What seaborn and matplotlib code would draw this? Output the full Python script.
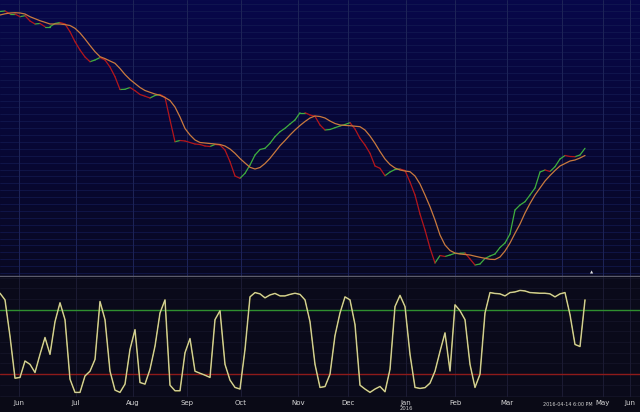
import numpy as np
import pandas as pd
import matplotlib
matplotlib.use("Agg")
import matplotlib.pyplot as plt
from matplotlib.colors import LinearSegmentedColormap
import seaborn as sns

# price (arbitrary units) sampled every 5 px of the reference, Jun 2015 -> 2016-04-14
price = [264.5, 265, 262, 262, 259.3, 260.3, 255, 252, 252.5, 249.3,
         249.3, 252.5, 253.5, 252, 244.3, 234.3, 226, 219, 214.3, 216,
         218.5, 216, 209, 199.3, 186.5, 186.7, 188.5, 185.3, 181.5, 179.8,
         178, 180.5, 181.5, 178.7, 156, 134.3, 135.5, 135, 133.5, 132,
         131.5, 130, 129.5, 131.5, 131, 126, 114.3, 100, 97.7, 102.7,
         111, 121, 126.5, 127.7, 132.7, 139.3, 144.3, 147.7, 152, 156,
         163.3, 163.3, 161, 159.7, 151, 146, 146.5, 148.3, 150, 151.5,
         153.3, 147, 137.7, 131, 122.7, 110, 107.7, 100.3, 104, 106.5,
         107, 105.5, 94, 81, 62, 46, 28, 13, 20.5, 19.5,
         21, 22.7, 22.7, 23, 17, 11, 12, 17.5, 20, 22,
         28.5, 33, 42, 66, 71, 74.3, 81, 88, 104, 106,
         104.5, 109.3, 117, 120.5, 119.5, 119.3, 121, 127.7]

moving_avg = [261, 262.2, 263, 263.3, 263, 262, 259.3, 257.3, 255.3, 253.7,
              252, 252, 252, 251.4, 250.5, 247.7, 243, 237, 230.5, 224.3,
              219.3, 217.4, 215, 212.7, 207.5, 201.5, 196.5, 192.5, 188.5, 185.5,
              183.7, 182, 180.7, 178.5, 175.5, 169, 159, 147.5, 141, 136,
              133.5, 133, 132.5, 132, 131.5, 130, 127, 122.7, 117.5, 113,
              108.7, 107, 108.5, 112.5, 117.7, 124, 130.3, 135.5, 141, 146,
              150.5, 154.5, 158, 160, 159.5, 158, 155, 152.5, 151, 150.6,
              150.3, 149.8, 149.3, 146, 140, 132.7, 124.5, 117, 111.5, 108,
              106, 105, 104.3, 100, 92, 81, 69.3, 56, 41, 31,
              25.5, 23, 22, 21.5, 21, 19.8, 18.7, 17.7, 16.7, 16.5,
              19, 25, 33, 42.7, 52, 63, 72.5, 81, 88, 95,
              100.5, 105.5, 110, 112.5, 115, 116, 118, 120.5]

stoch = [95.4, 89.2, 55.4, 16.3, 17.0, 32.3, 29.2, 21.6, 38.5, 54.2,
         38.5, 68.9, 86.5, 70.8, 15.4, 3.1, 3.1, 18.4, 22.8, 33.8,
         87.7, 70.8, 22.8, 5.2, 3.1, 10.8, 43.1, 61.5, 12.3, 10.8,
         24.6, 46.1, 77.0, 89.2, 9.8, 4.6, 4.6, 40.0, 53.2, 22.8,
         20.9, 19.1, 17.0, 70.8, 79.1, 29.2, 14.5, 7.7, 6.2, 43.1,
         92.0, 96.0, 94.8, 91.1, 93.8, 95.2, 92.9, 92.9, 94.3, 95.4,
         94.3, 89.2, 68.9, 29.2, 7.7, 8.5, 20.0, 56.0, 77.0, 92.0,
         89.2, 66.2, 9.8, 6.2, 3.1, 6.2, 8.6, 3.7, 24.6, 83.0,
         93.4, 83.0, 38.5, 7.7, 6.8, 7.5, 11.7, 22.8, 41.2, 58.5,
         23.0, 84.6, 79.1, 70.8, 29.2, 7.7, 20.0, 77.0, 96.0, 95.2,
         94.8, 92.9, 96.0, 96.6, 98.0, 97.5, 96.0, 95.7, 95.4, 95.4,
         94.8, 92.0, 94.8, 96.0, 75.4, 47.7, 45.8, 89.2]

month_pos = [3.8, 15.2, 26.6, 37.4, 48.2, 59.6, 69.6, 81.2, 91.0, 101.4, 112.4, 120.6, 126.0]
month_labels = ["Jun", "Jul", "Aug", "Sep", "Oct", "Nov", "Dec", "Jan", "Feb", "Mar", "", "May", "Jun"]
year_label = "2016"
stamp = "2016-04-14 6:00 PM"
upper_level, lower_level = 80, 20

sns.set_theme(style="dark")
plt.rcParams["font.family"] = ["DejaVu Sans"]

fig = plt.figure(figsize=(6.4, 4.12), dpi=100, facecolor="#0a0a16")
ax = fig.add_axes([0, 1 - 276 / 412, 1, 276 / 412])
ax2 = fig.add_axes([0, 15 / 412, 1, 120 / 412])
xmax = 128

### top panel: price coloured by direction + moving average
grad = np.linspace(0, 1, 256).reshape(-1, 1)
cmap = LinearSegmentedColormap.from_list("bg", ["#08084a", "#070736", "#090922"])
ax.imshow(grad, extent=[0, xmax, 0, 276], aspect="auto", cmap=cmap, zorder=0, origin="upper")

rows = []
for i in range(len(price) - 1):
    d = "up" if price[i + 1] >= price[i] else "down"
    rows.append({"x": i, "v": price[i], "seg": i, "dir": d})
    rows.append({"x": i + 1, "v": price[i + 1], "seg": i, "dir": d})
seg_df = pd.DataFrame(rows)
sns.lineplot(data=seg_df, x="x", y="v", units="seg", hue="dir", estimator=None,
             palette={"up": "#3fae3f", "down": "#b3161c"}, legend=False, lw=0.9, ax=ax, zorder=3)
ma_df = pd.DataFrame({"x": np.arange(len(moving_avg)), "v": moving_avg})
sns.lineplot(data=ma_df, x="x", y="v", color="#c97a3e", lw=0.9, ax=ax, zorder=4)

for yy in np.arange(3, 276, 6.9):
    ax.axhline(yy, color="#131a52", lw=0.5, zorder=1)
for xx in month_pos:
    ax.axvline(xx, color="#1e2458", lw=0.7, zorder=1)
ax.text(118.4, 3.5, "\u25b2", color="#e0e0e0", fontsize=3, ha="center", va="center", zorder=5)

ax.set_xlim(0, xmax)
ax.set_ylim(0, 276)
ax.set_xticks([])
ax.set_yticks([])
ax.set_xlabel("")
ax.set_ylabel("")
for s in ["top", "left", "right"]:
    ax.spines[s].set_visible(False)
ax.spines["bottom"].set_color("#5c5c6c")
ax.spines["bottom"].set_linewidth(1)

### bottom panel: stochastic oscillator
ax2.set_facecolor("#0a0a1a")
for yy in np.arange(0, 111, 10):
    ax2.axhline(yy, color="#16162a", lw=0.5, zorder=1)
for xx in month_pos:
    ax2.axvline(xx, color="#1c1c34", lw=0.7, zorder=1)
ax2.axhline(upper_level, color="#2f8f2f", lw=1, zorder=2)
ax2.axhline(lower_level, color="#8e1a1a", lw=1, zorder=2)
st_df = pd.DataFrame({"x": np.arange(len(stoch)), "v": stoch})
sns.lineplot(data=st_df, x="x", y="v", color="#bdb84c", lw=1.1, ax=ax2, zorder=3)
sns.lineplot(data=st_df, x="x", y="v", color="#d8d8d0", lw=0.45, ax=ax2, zorder=4)

ax2.set_xlim(0, xmax)
ax2.set_ylim(-1.2, 110.5)
ax2.set_yticks([])
ax2.set_xticks(month_pos)
ax2.set_xticklabels(month_labels, color="#d6d6d6", fontsize=5)
ax2.tick_params(axis="x", length=0, pad=2)
ax2.set_xlabel("")
ax2.set_ylabel("")
for s in ax2.spines.values():
    s.set_visible(False)

jan_x = month_pos[month_labels.index("Jan")]
ax2.text(jan_x, -0.098, year_label, transform=ax2.get_xaxis_transform(),
         color="#d0d0d0", fontsize=3.8, ha="center", va="center")
ax2.text(113.6, -0.065, stamp, transform=ax2.get_xaxis_transform(),
         color="#d0d0d0", fontsize=3.5, ha="center", va="center")

fig.savefig("out.png", dpi=100, facecolor=fig.get_facecolor())
